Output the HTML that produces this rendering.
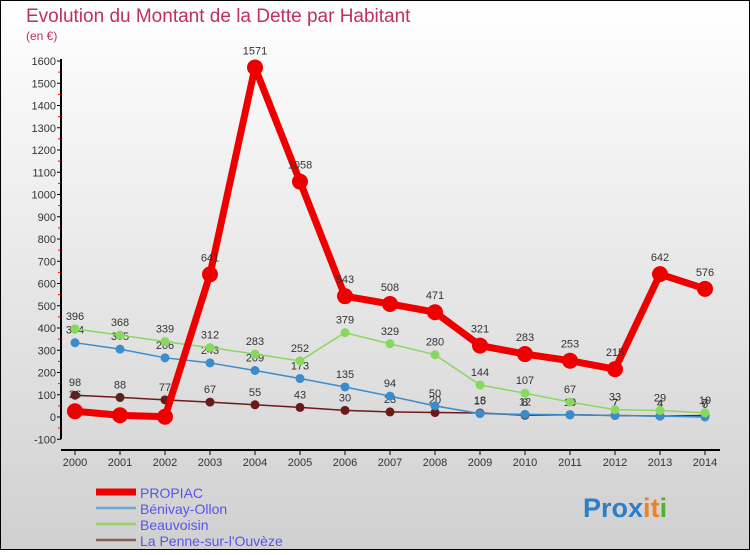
<!DOCTYPE html>
<html><head><meta charset="utf-8"><style>
html,body{margin:0;padding:0}
body{width:750px;height:550px;overflow:hidden;font-family:"Liberation Sans",sans-serif}
svg text{font-family:"Liberation Sans",sans-serif}
</style></head><body>
<svg id="chart" width="750" height="550" xmlns="http://www.w3.org/2000/svg">
<defs><linearGradient id="bg" x1="0" y1="0" x2="0" y2="1"><stop offset="0" stop-color="#ffffff"/><stop offset="1" stop-color="#d0d0d0"/></linearGradient></defs>
<rect x="0.5" y="0.5" width="749" height="549" fill="url(#bg)" stroke="#000"/>
<text x="26" y="22" font-size="19" fill="#c0305a">Evolution du Montant de la Dette par Habitant</text>
<text x="26" y="40" font-size="12" fill="#c0305a">(en €)</text>
<g id="axes"></g><g id="series"></g><g id="legend"></g>
<text x="583" y="517" font-size="27" font-weight="bold"><tspan fill="#2a7fc9">Pro</tspan><tspan fill="#2a7fc9">x</tspan><tspan fill="#f08020">i</tspan><tspan fill="#f08020">t</tspan><tspan fill="#50b030">i</tspan></text>
</svg>
<script>
const years=[2000,2001,2002,2003,2004,2005,2006,2007,2008,2009,2010,2011,2012,2013,2014];
const yTicks=[-100,0,100,200,300,400,500,600,700,800,900,1000,1100,1200,1300,1400,1500,1600];
const propiac=[26,8,1,641,1571,1058,543,508,471,321,283,253,215,642,576];
const benivay=[334,305,266,243,209,173,135,94,50,15,12,10,7,4,0];
const beauvoisin=[396,368,339,312,283,252,379,329,280,144,107,67,33,29,19];
const lapenne=[98,88,77,67,55,43,30,23,20,18,8,10,7,4,7];
const names=["PROPIAC","Bénivay-Ollon","Beauvoisin","La Penne-sur-l'Ouvèze"];
const NS="http://www.w3.org/2000/svg";
const X=i=>75+i*45;
const Y=v=>417-v*0.2225;
function mk(t,a,p){const e=document.createElementNS(NS,t);for(const k in a)e.setAttribute(k,a[k]);(p||document.getElementById('chart')).appendChild(e);return e;}
const ax=document.getElementById('axes');
let yl=mk('line',{x1:61,y1:Y(1600)-2,x2:61,y2:Y(-100),stroke:'#000','stroke-width':2},ax);


let xl=mk('line',{x1:61,y1:450,x2:720,y2:450,stroke:'#000','stroke-width':2},ax);


yTicks.forEach(v=>{
 mk('line',{x1:57,y1:Y(v),x2:61,y2:Y(v),stroke:'#000'},ax);
 if(v<1600)mk('line',{x1:58,y1:Y(v+50),x2:61,y2:Y(v+50),stroke:'#e00'},ax);
 const t=mk('text',{x:56,y:Y(v)+4,'font-size':11,'text-anchor':'end',fill:'#333'},ax);
 
 
 t.textContent=v;
});
years.forEach((y,i)=>{
 mk('line',{x1:X(i),y1:450,x2:X(i),y2:455,stroke:'#000'},ax);
 const t=mk('text',{x:X(i),y:466,'font-size':11,'text-anchor':'middle',fill:'#333'},ax);
 
 
 t.textContent=y;
});
const sg=document.getElementById('series');
function series(data,color,w,r,name,drawLast){
 const g=mk('g',{},sg);
 
 
 mk('polyline',{points:data.map((v,i)=>X(i)+','+Y(v)).join(' '),fill:'none',stroke:color,'stroke-width':w,'stroke-linejoin':'round'},g);
 data.forEach((v,i)=>{
  const c=mk('circle',{cx:X(i),cy:Y(v),r:r,fill:color},g);
  
  
  const t=mk('text',{x:X(i),y:Y(v)-9-(r>5?4:0),'font-size':11,'text-anchor':'middle',fill:'#333'},g);
  
  
  t.textContent=v;
 });
}
series(lapenne,'#6b1a1a',1.5,4.5,'la-penne-series');
series(benivay,'#3a8ccc',1.5,4.5,'benivay-series');
series(beauvoisin,'#88d860',1.5,4.5,'beauvoisin-series');
series(propiac,'#ee0000',7,8,'propiac-series');
const lg=document.getElementById('legend');
const cols=['#ee0000','#6fa8d0','#90d070','#8b5a5a'];
names.forEach((n,i)=>{
 const y=492+i*16;
 const l=mk('line',{x1:96,y1:y,x2:136,y2:y,stroke:cols[i],'stroke-width':i==0?7:2.5},lg);
 
 
 const t=mk('text',{x:140,y:y+6,'font-size':14,fill:'#5555ee'},lg);
 
 
 t.textContent=n;
});
</script>
</body></html>
